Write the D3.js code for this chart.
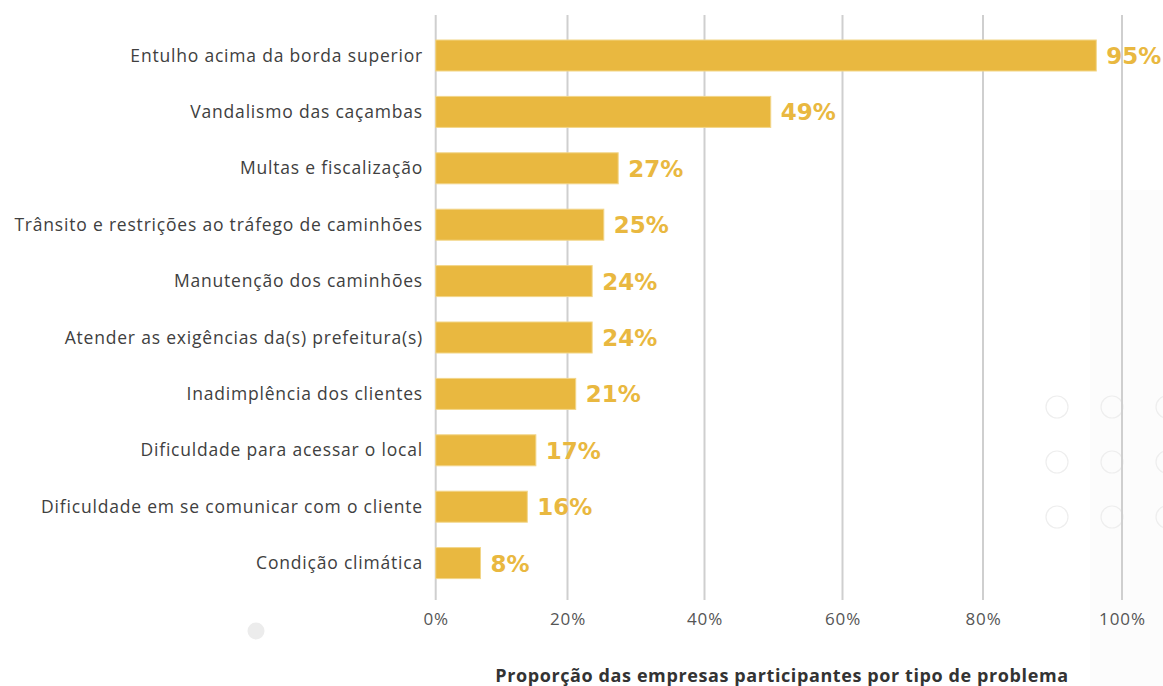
<!DOCTYPE html>
<html><head><meta charset="utf-8">
<script src="https://cdn.jsdelivr.net/npm/d3@7"></script>
<style>
html,body{margin:0;padding:0;background:#fff;}
svg{display:block;}
</style></head>
<body>
<svg id="chart" width="1163" height="686"></svg>
<script>
const categories = [
  "Entulho acima da borda superior",
  "Vandalismo das caçambas",
  "Multas e fiscalização",
  "Trânsito e restrições ao tráfego de caminhões",
  "Manutenção dos caminhões",
  "Atender as exigências da(s) prefeitura(s)",
  "Inadimplência dos clientes",
  "Dificuldade para acessar o local",
  "Dificuldade em se comunicar com o cliente",
  "Condição climática"
];
// bar lengths as drawn in the picture (percent)
const values = [96.3, 49.6, 27.4, 25.3, 23.6, 23.6, 21.2, 15.2, 13.9, 6.8];
// printed value labels
const valueLabels = ["95%", "49%", "27%", "25%", "24%", "24%", "21%", "17%", "16%", "8%"];
const tickValues = [0, 20, 40, 60, 80, 100];
const axisTitle = "Proporção das empresas participantes por tipo de problema";

const svg = d3.select("#chart");

// subtle background decoration
svg.append("rect").attr("x", 1090).attr("y", 190).attr("width", 73).attr("height", 496).attr("fill", "#fcfcfc");
const dots = [[1057,407],[1112,407],[1167,407],[1057,462],[1112,462],[1167,462],[1057,517],[1112,517],[1167,517]];
svg.selectAll("circle.deco").data(dots).join("circle")
  .attr("class","deco").attr("cx", d=>d[0]).attr("cy", d=>d[1]).attr("r", 11)
  .attr("fill","none").attr("stroke","#eeeeee").attr("stroke-width",1.2);
svg.append("circle").attr("cx",256).attr("cy",631).attr("r",8.5).attr("fill","#ececec");

// piecewise-linear scale following the gridline positions of the picture
const x = d3.scaleLinear().domain(tickValues).range([435.7, 567.5, 704.5, 842.5, 983, 1122]);
const y = d3.scaleBand().domain(categories).range([27.3, 591.3]).paddingInner(0.45).paddingOuter(0.225);

const gridTop = 15, gridBottom = 600;

// gridlines
svg.append("g").selectAll("line").data(tickValues).join("line")
  .attr("x1", d=>x(d)).attr("x2", d=>x(d))
  .attr("y1", gridTop).attr("y2", gridBottom)
  .attr("stroke", "#cfcfcf").attr("stroke-width", 2);

// axis tick labels
const axis = d3.axisBottom(x).tickValues(tickValues).tickSize(0).tickPadding(13).tickFormat(d => d + "%");
const gAxis = svg.append("g").attr("transform", `translate(0,${gridBottom})`).call(axis);
gAxis.select(".domain").remove();
gAxis.selectAll("text").attr("font-family", "Open Sans, sans-serif").attr("font-size", 17)
  .attr("letter-spacing", 0.9).attr("fill", "#555");

// bars
svg.append("g").selectAll("rect").data(categories).join("rect")
  .attr("x", x(0)).attr("y", d => y(d))
  .attr("width", (d,i) => x(values[i]) - x(0))
  .attr("height", y.bandwidth())
  .attr("fill", "#E9B840").attr("stroke", "#f2d68a").attr("stroke-width", 1);

// category labels
svg.append("g").selectAll("text").data(categories).join("text")
  .attr("x", 423).attr("y", d => y(d) + y.bandwidth()/2)
  .attr("dy", "0.35em").attr("text-anchor", "end")
  .attr("font-family", "Open Sans, sans-serif").attr("font-size", 17.5)
  .attr("letter-spacing", 0.8)
  .attr("fill", "#404040").text(d => d);

// value labels
svg.append("g").selectAll("text").data(categories).join("text")
  .attr("x", (d,i) => x(values[i]) + 10).attr("y", d => y(d) + y.bandwidth()/2)
  .attr("dy", "0.37em")
  .attr("font-family", "DejaVu Sans, sans-serif").attr("font-weight", 700).attr("font-size", 23)
  .attr("fill", "#E9B840").text((d,i) => valueLabels[i]);

// axis title
svg.append("text").attr("x", 782).attr("y", 682)
  .attr("text-anchor", "middle")
  .attr("font-family", "Open Sans, sans-serif").attr("font-weight", 700).attr("font-size", 18)
  .attr("letter-spacing", 0.6)
  .attr("fill", "#333").text(axisTitle);
</script>
</body></html>
